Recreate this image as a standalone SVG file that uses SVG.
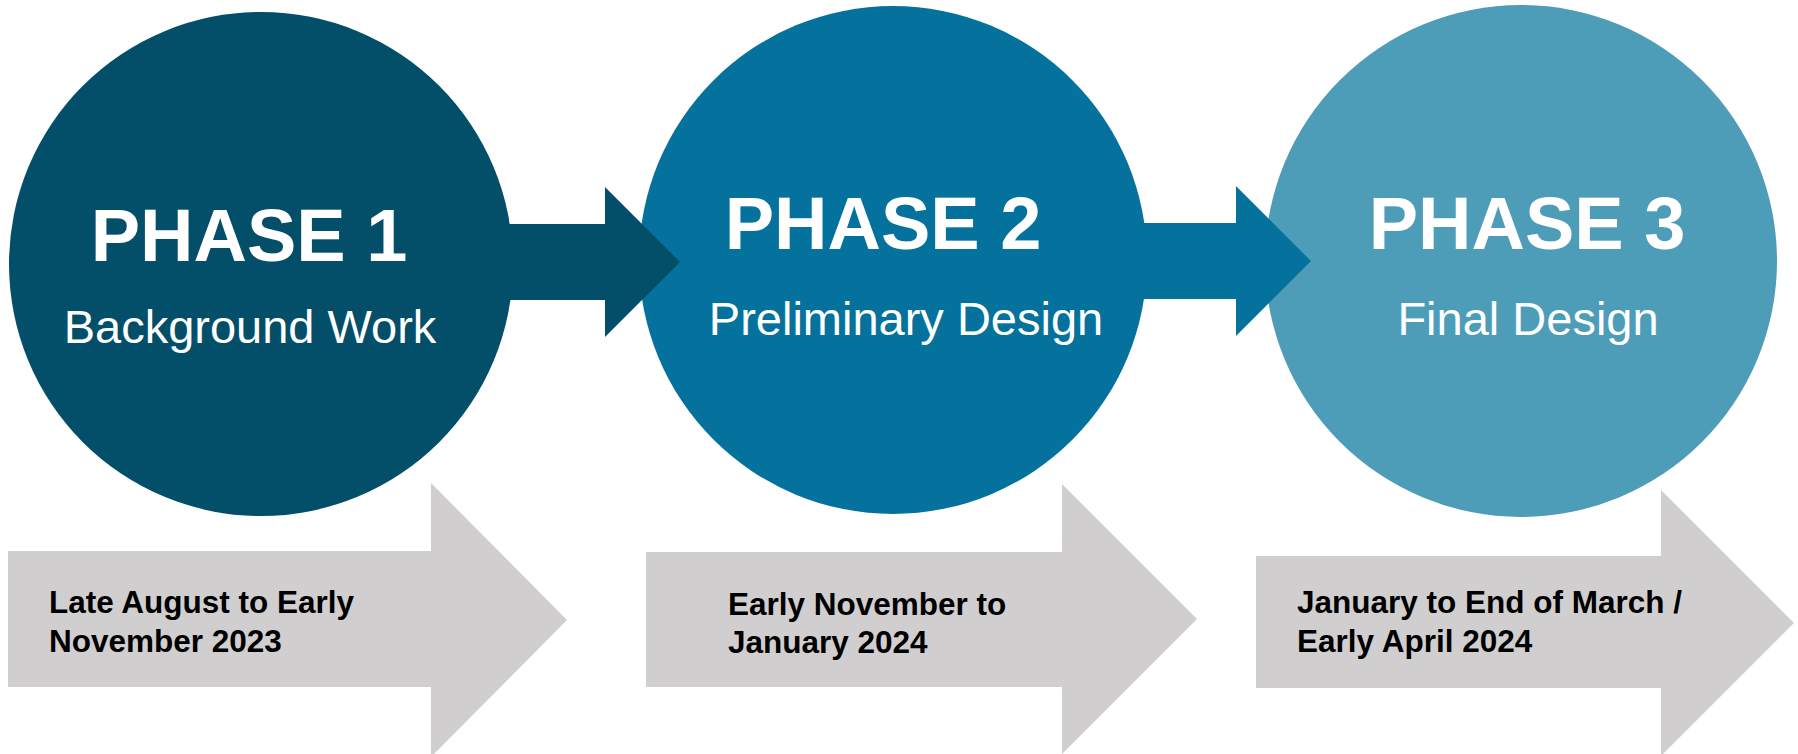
<svg xmlns="http://www.w3.org/2000/svg" width="1798" height="754" viewBox="0 0 1798 754">
<style>
.t{font-family:"Liberation Sans",Arial,sans-serif;}
.ph{font-weight:bold;font-size:74px;fill:#fff;text-anchor:middle;}
.sub{font-size:47px;fill:#fff;text-anchor:middle;}
.dt{font-weight:bold;font-size:31.5px;fill:#000;}
.gray{fill:#D0CECF;}
</style>
<rect width="1798" height="754" fill="#fff"/>
<g id="timeline">
<g id="date1"><polygon class="gray" points="8,551 431,551 431,483 567,620 431,757 431,687 8,687"/>
<text class="t dt" x="49" y="613">Late August to Early</text>
<text class="t dt" x="49" y="652">November 2023</text></g>
<g id="date2"><polygon class="gray" points="646,552 1062,552 1062,484 1197,619 1062,754 1062,687 646,687"/>
<text class="t dt" x="728" y="615">Early November to</text>
<text class="t dt" x="728" y="653">January 2024</text></g>
<g id="date3"><polygon class="gray" points="1256,556 1661,556 1661,490 1794,623 1661,756 1661,688 1256,688"/>
<text class="t dt" x="1297" y="613">January to End of March /</text>
<text class="t dt" x="1297" y="652">Early April 2024</text></g>
</g>
<g id="phase3"><circle cx="1521" cy="261" r="256" fill="#4E9DB8"/>
<text class="t ph" x="1527" y="249">PHASE 3</text>
<text class="t sub" x="1528" y="335">Final Design</text></g>
<g id="connectors">
<polygon id="arrow2" fill="#04729C" points="1100,223 1236,223 1236,186 1311,261 1236,336 1236,299 1100,299"/>
</g>
<g id="phase2"><circle cx="893" cy="260" r="254" fill="#04729C"/>
<text class="t ph" x="883" y="249">PHASE 2</text>
<text class="t sub" x="906" y="335">Preliminary Design</text></g>
<g id="connectors2">
<polygon id="arrow1" fill="#034E68" points="450,224 605,224 605,187 680,262 605,337 605,300 450,300"/>
</g>
<g id="phase1"><circle cx="261" cy="264" r="252" fill="#034E68"/>
<text class="t ph" x="249" y="261">PHASE 1</text>
<text class="t sub" x="250" y="343">Background Work</text></g>
</svg>
